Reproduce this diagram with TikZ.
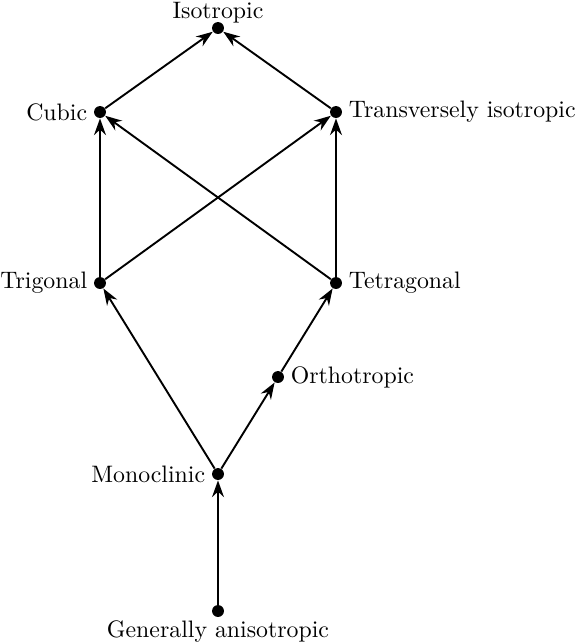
\documentclass[tikz,border=0pt]{standalone}
\usetikzlibrary{positioning, arrows.meta}

\begin{document}
\begin{tikzpicture}[
    x=0.42pt, y=-0.42pt,
    pt/.style={circle, fill=black, draw=none, inner sep=0pt, minimum size=5pt},
    lbl/.style={font=\normalsize, inner sep=1pt},
    arr/.style={-{Stealth[length=7pt, width=5pt, inset=2.3pt]}, line width=0.8pt, draw=black}
]
    \useasboundingbox (0, 0) rectangle (582, 644);

    % symmetry classes
    \node[pt] (iso) at (218, 28) {};
    \node[pt] (cub) at (100, 112) {};
    \node[pt] (tri) at (336, 112) {};
    \node[pt] (trig) at (100, 283) {};
    \node[pt] (tetr) at (336, 283) {};
    \node[pt] (orth) at (278, 377) {};
    \node[pt] (mono) at (218, 474) {};
    \node[pt] (gen) at (218, 611) {};

    % labels
    \node[lbl, above=-1.8pt of iso] {Isotropic};
    \node[lbl, left=1.5pt of cub] {Cubic};
    \node[lbl, right=1.5pt of tri] {Transversely isotropic};
    \node[lbl, left=1.5pt of trig] {Trigonal};
    \node[lbl, right=1.5pt of tetr] {Tetragonal};
    \node[lbl, right=1.5pt of orth] {Orthotropic};
    \node[lbl, left=1.5pt of mono] {Monoclinic};
    \node[lbl, below=0pt of gen] {Generally anisotropic};

    % arrows
    \draw[arr] (gen) -- (mono);
    \draw[arr] (mono) -- (trig);
    \draw[arr] (mono) -- (orth);
    \draw[arr] (orth) -- (tetr);
    \draw[arr] (trig) -- (cub);
    \draw[arr] (trig) -- (tri);
    \draw[arr] (tetr) -- (cub);
    \draw[arr] (tetr) -- (tri);
    \draw[arr] (cub) -- (iso);
    \draw[arr] (tri) -- (iso);
\end{tikzpicture}
\end{document}
